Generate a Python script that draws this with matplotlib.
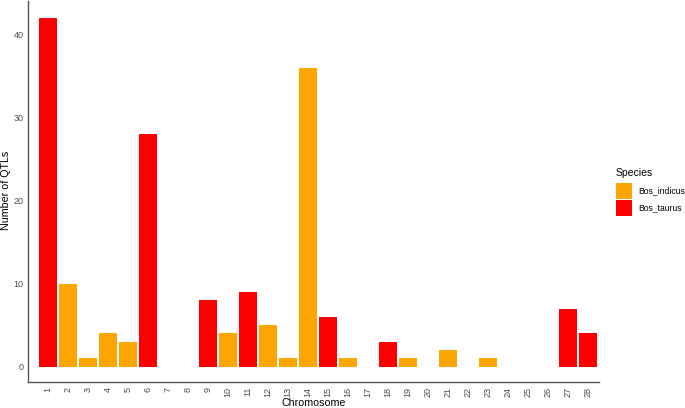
import matplotlib.pyplot as plt
from matplotlib.patches import Rectangle

plt.rcParams['font.family'] = ['Liberation Sans', 'DejaVu Sans']

chromosomes = list(range(1, 29))
qtl_counts = [42, 10, 1, 4, 3, 28, 0, 0, 8, 4, 9, 5, 1, 36, 6, 1, 0, 3, 1, 0, 2, 0, 1, 0, 0, 0, 7, 4]
species = ['Bos_taurus', 'Bos_indicus', 'Bos_indicus', 'Bos_indicus', 'Bos_indicus', 'Bos_taurus',
           None, None, 'Bos_taurus', 'Bos_indicus', 'Bos_taurus', 'Bos_indicus', 'Bos_indicus',
           'Bos_indicus', 'Bos_taurus', 'Bos_indicus', None, 'Bos_taurus', 'Bos_indicus', None,
           'Bos_indicus', None, 'Bos_indicus', None, None, None, 'Bos_taurus', 'Bos_taurus']
species_names = ['Bos_indicus', 'Bos_taurus']
species_colors = {'Bos_indicus': '#FFA500', 'Bos_taurus': '#FF0000'}

W, H = 685, 408
fig = plt.figure(figsize=(W / 100, H / 100), dpi=100)
ax = fig.add_axes([27.5 / W, 26 / H, (599 - 27.5) / W, (382 - 1) / H])

# only chromosomes with QTLs get a bar
for c, n, s in zip(chromosomes, qtl_counts, species):
    if s is not None:
        ax.bar(c, n, width=0.9, color=species_colors[s], linewidth=0)

ax.set_xlim(-0.03, 28.55)
ax.set_ylim(-1.85, 44.1)
ax.set_xticks(chromosomes)
ax.set_xticklabels([str(c) for c in chromosomes], rotation=90)
ax.set_yticks([0, 10, 20, 30, 40])
ax.tick_params(length=0, labelsize=6.5, labelcolor='#4d4d4d')
ax.tick_params(axis='x', pad=3.6)
ax.tick_params(axis='y', pad=3)

for side in ['top', 'right']:
    ax.spines[side].set_visible(False)
for side in ['left', 'bottom']:
    ax.spines[side].set_color('#555555')
    ax.spines[side].set_linewidth(1)

fig.text(314 / W, 1 - 403 / H, 'Chromosome', fontsize=7.7, ha='center', va='center')
fig.text(6 / W, 1 - 190 / H, 'Number of QTLs', fontsize=7.7, rotation=90,
         ha='center', va='center')

# legend drawn by hand to sit where the reference has it
fig.text(616 / W, 1 - 173 / H, 'Species', fontsize=7.5, ha='left', va='center')
key_tops = [183, 200]
for name, top in zip(species_names, key_tops):
    fig.add_artist(Rectangle((616 / W, 1 - (top + 16) / H), 16 / W, 16 / H,
                             transform=fig.transFigure, facecolor=species_colors[name],
                             edgecolor='none'))
    fig.text(638 / W, 1 - (top + 8) / H, name, fontsize=6.2, ha='left', va='center')

fig.savefig('out.png', dpi=100)
